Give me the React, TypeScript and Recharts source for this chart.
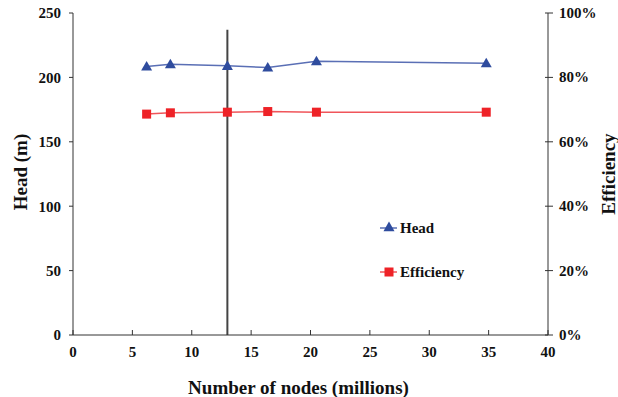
import React from "react";
import {
  ComposedChart,
  Line,
  XAxis,
  YAxis,
  ReferenceLine,
} from "recharts";

// Mesh-independence study: head and efficiency vs. mesh size
const nodes = [6.2, 8.2, 13.0, 16.4, 20.5, 34.8];
const head = [208.5, 210.3, 209.0, 207.7, 212.6, 211.0];
const efficiency = [0.686, 0.69, 0.692, 0.694, 0.692, 0.692];

const xTicks = [0, 5, 10, 15, 20, 25, 30, 35, 40];
const headTicks = [0, 50, 100, 150, 200, 250];
const effTicks = [0, 0.2, 0.4, 0.6, 0.8, 1.0];

const selectedMesh = 13;
const selectedTopHead = 237;

const data = nodes.map((n, i) => ({ n, head: head[i], eff: efficiency[i] }));

const FONT = '"Liberation Serif", "Times New Roman", serif';
const AXIS = "#333";
const BLUE = "#2F4C9E";
const BLUE_LINE = "#5A6FB5";
const RED = "#EE2227";
const RED_LINE = "#F0555A";

const XTick = (props: any) => {
  const { x, y, payload } = props;
  return (
    <g>
      <line x1={x} x2={x} y1={y - 5} y2={y} stroke={AXIS} strokeWidth={1} />
      <text
        x={x}
        y={y + 22}
        textAnchor="middle"
        fontFamily={FONT}
        fontWeight="bold"
        fontSize={15}
        fill="#111"
      >
        {payload.value}
      </text>
    </g>
  );
};

const RightTick = (props: any) => {
  const { x, y, payload } = props;
  return (
    <g>
      <line x1={x - 3} x2={x + 5} y1={y} y2={y} stroke={AXIS} strokeWidth={1} />
      <text
        x={x + 11}
        y={y + 5}
        textAnchor="start"
        fontFamily={FONT}
        fontWeight="bold"
        fontSize={15}
        fill="#111"
      >
        {Math.round(payload.value * 100) + "%"}
      </text>
    </g>
  );
};

const Triangle = (props: any) => {
  const { cx, cy, fill } = props;
  if (cx == null || cy == null) return null;
  const s = 5.5;
  return (
    <polygon
      points={`${cx},${cy - s} ${cx - s},${cy + s * 0.75} ${cx + s},${cy + s * 0.75}`}
      fill={fill}
    />
  );
};

const Square = (props: any) => {
  const { cx, cy, fill } = props;
  if (cx == null || cy == null) return null;
  const s = 4.5;
  return <rect x={cx - s} y={cy - s} width={2 * s} height={2 * s} fill={fill} />;
};

const ChartLegend = () => (
  <svg
    width={110}
    height={70}
    style={{ position: "absolute", left: 378, top: 216 }}
  >
    <g>
      <line x1={2} x2={19} y1={12} y2={12} stroke={BLUE_LINE} strokeWidth={1.5} />
      <Triangle cx={11} cy={11} fill={BLUE} />
      <text x={22} y={17} fontFamily={FONT} fontWeight="bold" fontSize={15} fill="#111">
        Head
      </text>
    </g>
    <g>
      <line x1={2} x2={19} y1={56} y2={56} stroke={RED_LINE} strokeWidth={1.5} />
      <Square cx={11} cy={56} fill={RED} />
      <text x={22} y={61} fontFamily={FONT} fontWeight="bold" fontSize={15} fill="#111">
        Efficiency
      </text>
    </g>
  </svg>
);

export default function App() {
  return (
    <div
      style={{
        position: "absolute",
        left: 0,
        top: 0,
        width: 618,
        height: 397,
        background: "#fff",
      }}
    >
      <ComposedChart
        width={618}
        height={397}
        data={data}
        margin={{ top: 13, right: 0, bottom: 0, left: 0 }}
      >
        <XAxis
          dataKey="n"
          type="number"
          domain={[0, 40]}
          ticks={xTicks}
          interval={0}
          stroke={AXIS}
          tickLine={false}
          tickSize={0}
          tickMargin={0}
          tick={<XTick />}
          height={62}
          label={{
            value: "Number of nodes (millions)",
            position: "insideBottom",
            offset: 3,
            dx: -12,
            style: { fontFamily: FONT, fontWeight: "bold", fontSize: 19, fill: "#111" },
          }}
        />
        <YAxis
          yAxisId="head"
          orientation="left"
          domain={[0, 250]}
          ticks={headTicks}
          interval={0}
          width={73}
          stroke={AXIS}
          tickSize={4}
          tickMargin={8}
          tick={{ fontFamily: FONT, fontWeight: "bold", fontSize: 15, fill: "#111" }}
          label={{
            value: "Head (m)",
            angle: -90,
            position: "insideLeft",
            offset: 20,
            dy: -2,
            style: {
              fontFamily: FONT,
              fontWeight: "bold",
              fontSize: 19,
              fill: "#111",
              textAnchor: "middle",
            },
          }}
        />
        <YAxis
          yAxisId="eff"
          orientation="right"
          domain={[0, 1]}
          ticks={effTicks}
          interval={0}
          width={70}
          stroke={AXIS}
          tickLine={false}
          tickSize={0}
          tickMargin={0}
          tick={<RightTick />}
          label={{
            value: "Efficiency",
            angle: -90,
            position: "insideRight",
            offset: 10,
            style: {
              fontFamily: FONT,
              fontWeight: "bold",
              fontSize: 19,
              fill: "#111",
              textAnchor: "middle",
            },
          }}
        />
        <ReferenceLine
          yAxisId="head"
          segment={[
            { x: selectedMesh, y: 0 },
            { x: selectedMesh, y: selectedTopHead },
          ]}
          stroke="#444"
          strokeWidth={2}
        />
        <Line
          yAxisId="head"
          dataKey="head"
          name="Head"
          stroke={BLUE_LINE}
          strokeWidth={1.5}
          dot={<Triangle fill={BLUE} />}
          isAnimationActive={false}
        />
        <Line
          yAxisId="eff"
          dataKey="eff"
          name="Efficiency"
          stroke={RED_LINE}
          strokeWidth={1.5}
          dot={<Square fill={RED} />}
          isAnimationActive={false}
        />
      </ComposedChart>
      <ChartLegend />
    </div>
  );
}
